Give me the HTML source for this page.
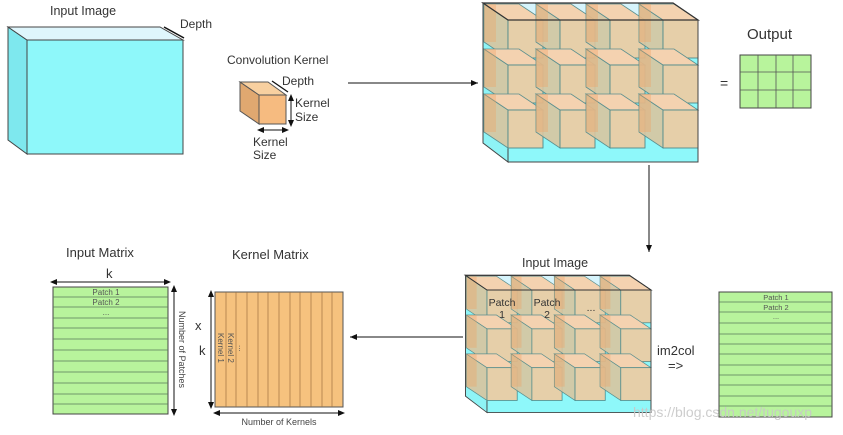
<!DOCTYPE html>
<html><head><meta charset="utf-8"><style>
body{margin:0;background:#fff}
svg text{font-family:"Liberation Sans",sans-serif;fill:#333}
</style></head><body>
<svg width="843" height="430" viewBox="0 0 843 430" xmlns="http://www.w3.org/2000/svg">
<defs>
<marker id="ah" markerWidth="8" markerHeight="8" refX="7" refY="4" orient="auto" markerUnits="userSpaceOnUse"><path d="M0,1 L7,4 L0,7 Z" fill="#111"/></marker>
<marker id="as" markerWidth="8" markerHeight="8" refX="4" refY="4" orient="auto-start-reverse" markerUnits="userSpaceOnUse"><path d="M0,1 L7,4 L0,7 Z" fill="#111"/></marker>
<g id="cube">
<polygon points="-24,-16 0,0 0,38 -24,22" fill="#d8c49e" fill-opacity="0.9" stroke="#5a8f8f" stroke-width="0.8"/>
<polygon points="-24,-16 11,-16 35,0 0,0" fill="#f4d2b0" stroke="#5a8f8f" stroke-width="0.8"/>
<rect x="-24" y="-16" width="12" height="38" fill="#f0a060" fill-opacity="0.35"/>
<rect x="0" y="0" width="35" height="38" fill="#e6cfa9" stroke="#4e8a8a" stroke-width="0.9"/>
</g>
<g id="block">
<polygon points="483,3 508,20 508,162 483,143" fill="#8ef4f6" stroke="#444" stroke-width="1"/>
<polygon points="483,3 673,3 698,20 508,20" fill="#d6f4fc" stroke="#333" stroke-width="1"/>
<rect x="508" y="20" width="190" height="142" fill="#8ef8fa" stroke="#444" stroke-width="1"/>
<use href="#cube" x="508" y="20"/><use href="#cube" x="560" y="20"/><use href="#cube" x="610" y="20"/><use href="#cube" x="663" y="20"/>
<use href="#cube" x="508" y="65"/><use href="#cube" x="560" y="65"/><use href="#cube" x="610" y="65"/><use href="#cube" x="663" y="65"/>
<use href="#cube" x="508" y="110"/><use href="#cube" x="560" y="110"/><use href="#cube" x="610" y="110"/><use href="#cube" x="663" y="110"/>
<polygon points="483,3 673,3 698,20 508,20" fill="none" stroke="#333" stroke-width="1.2"/>
<line x1="483" y1="3" x2="483" y2="143" stroke="#444"/>
<line x1="698" y1="20" x2="698" y2="162" stroke="#444"/>
</g>
</defs>

<!-- Input image top-left -->
<text x="50" y="15" font-size="12.5">Input Image</text>
<polygon points="8,27 27,40 27,154 8,140" fill="#7ee8ee" stroke="#444"/>
<polygon points="8,27 160,27 183,40 27,40" fill="#dff6fc" stroke="#444"/>
<rect x="27" y="40" width="156" height="114" fill="#8ef8fa" stroke="#444"/>
<line x1="164" y1="27" x2="184" y2="38" stroke="#111" stroke-width="1.5"/>
<text x="180" y="28" font-size="12">Depth</text>

<!-- kernel cube -->
<text x="227" y="64" font-size="12">Convolution Kernel</text>
<polygon points="240,82 259,95 259,124 240,111" fill="#e0a870" stroke="#555"/>
<polygon points="240,82 268,82 286,95 259,95" fill="#f8d0a0" stroke="#555"/>
<rect x="259" y="95" width="27" height="29" fill="#f6bb80" stroke="#555"/>
<line x1="272" y1="81" x2="288" y2="92" stroke="#111" stroke-width="1.3"/>
<text x="282" y="85" font-size="12">Depth</text>
<line x1="291" y1="97" x2="291" y2="124" stroke="#111" marker-start="url(#as)" marker-end="url(#as)"/>
<text x="295" y="107" font-size="12">Kernel</text>
<text x="295" y="121" font-size="12">Size</text>
<line x1="260" y1="130" x2="286" y2="130" stroke="#111" marker-start="url(#as)" marker-end="url(#as)"/>
<text x="253" y="146" font-size="12">Kernel</text>
<text x="253" y="159" font-size="12">Size</text>

<line x1="348" y1="83" x2="478" y2="83" stroke="#111" marker-end="url(#ah)"/>

<use href="#block"/>

<text x="720" y="88" font-size="14">=</text>
<text x="747" y="39" font-size="15">Output</text>
<rect x="740" y="55" width="71" height="53" fill="#b8f49c" stroke="#444"/>
<g stroke="#555" stroke-width="0.8">
<line x1="758" y1="55" x2="758" y2="108"/><line x1="776" y1="55" x2="776" y2="108"/><line x1="793" y1="55" x2="793" y2="108"/>
<line x1="740" y1="72" x2="811" y2="72"/><line x1="740" y1="90" x2="811" y2="90"/>
</g>

<line x1="649" y1="165" x2="649" y2="252" stroke="#111" marker-end="url(#ah)"/>

<!-- bottom block -->
<text x="522" y="267" font-size="12.5">Input Image</text>
<g transform="translate(487,290) scale(0.863) translate(-508,-20)"><use href="#block"/></g>
<g font-size="10.5" text-anchor="middle">
<text x="502" y="306">Patch</text><text x="502" y="318">1</text>
<text x="547" y="306">Patch</text><text x="547" y="318">2</text>
<text x="591" y="311">...</text>
</g>
<text x="657" y="355" font-size="13">im2col</text>
<text x="668" y="370" font-size="13">=&gt;</text>

<rect x="719" y="292" width="113" height="125" fill="#b8f49c" stroke="#444"/>
<g stroke="#5a7a5a" stroke-width="0.8">
<line x1="719" y1="302" x2="832" y2="302"/><line x1="719" y1="312" x2="832" y2="312"/><line x1="719" y1="323" x2="832" y2="323"/>
<line x1="719" y1="334" x2="832" y2="334"/><line x1="719" y1="344" x2="832" y2="344"/><line x1="719" y1="354" x2="832" y2="354"/>
<line x1="719" y1="365" x2="832" y2="365"/><line x1="719" y1="375" x2="832" y2="375"/><line x1="719" y1="385" x2="832" y2="385"/>
<line x1="719" y1="396" x2="832" y2="396"/><line x1="719" y1="406" x2="832" y2="406"/>
</g>
<g font-size="7.5" text-anchor="middle" fill="#555"><text x="776" y="300" style="fill:#555">Patch 1</text><text x="776" y="310" style="fill:#555">Patch 2</text><text x="776" y="319" style="fill:#555">...</text></g>
<text x="633" y="417" font-size="14" style="fill:#c8c8c8;opacity:0.9">https://blog.csdn.net/tugouxp</text>

<line x1="463" y1="337" x2="350" y2="337" stroke="#111" marker-end="url(#ah)"/>

<!-- kernel matrix -->
<text x="232" y="259" font-size="13">Kernel Matrix</text>
<rect x="215" y="292" width="128" height="115" fill="#f6c27e" stroke="#555"/>
<g stroke="#a07040" stroke-width="0.7">
<line x1="226" y1="292" x2="226" y2="407"/><line x1="236" y1="292" x2="236" y2="407"/><line x1="247" y1="292" x2="247" y2="407"/>
<line x1="258" y1="292" x2="258" y2="407"/><line x1="268" y1="292" x2="268" y2="407"/><line x1="279" y1="292" x2="279" y2="407"/>
<line x1="290" y1="292" x2="290" y2="407"/><line x1="300" y1="292" x2="300" y2="407"/><line x1="311" y1="292" x2="311" y2="407"/>
<line x1="322" y1="292" x2="322" y2="407"/><line x1="332" y1="292" x2="332" y2="407"/>
</g>
<text transform="translate(218,333) rotate(90)" font-size="8" style="fill:#555">Kernel 1</text>
<text transform="translate(228,333) rotate(90)" font-size="8" style="fill:#555">Kernel 2</text>
<text transform="translate(239,345) rotate(90)" font-size="8" style="fill:#555">...</text>
<line x1="211" y1="293" x2="211" y2="406" stroke="#111" marker-start="url(#as)" marker-end="url(#as)"/>
<line x1="216" y1="413" x2="342" y2="413" stroke="#111" marker-start="url(#as)" marker-end="url(#as)"/>
<text x="279" y="425" font-size="9" text-anchor="middle" style="fill:#444">Number of Kernels</text>
<text x="195" y="330" font-size="13">x</text>
<text x="199" y="355" font-size="13">k</text>

<!-- input matrix -->
<text x="66" y="257" font-size="13">Input Matrix</text>
<text x="106" y="278" font-size="13">k</text>
<line x1="53" y1="282" x2="168" y2="282" stroke="#111" marker-start="url(#as)" marker-end="url(#as)"/>
<rect x="53" y="287" width="115" height="127" fill="#b8f49c" stroke="#444"/>
<g stroke="#5a7a5a" stroke-width="0.8">
<line x1="53" y1="297" x2="168" y2="297"/><line x1="53" y1="307" x2="168" y2="307"/><line x1="53" y1="318" x2="168" y2="318"/>
<line x1="53" y1="328" x2="168" y2="328"/><line x1="53" y1="339" x2="168" y2="339"/><line x1="53" y1="350" x2="168" y2="350"/>
<line x1="53" y1="361" x2="168" y2="361"/><line x1="53" y1="372" x2="168" y2="372"/><line x1="53" y1="383" x2="168" y2="383"/>
<line x1="53" y1="394" x2="168" y2="394"/><line x1="53" y1="404" x2="168" y2="404"/>
</g>
<g font-size="8" text-anchor="middle"><text x="106" y="295" style="fill:#555">Patch 1</text><text x="106" y="305" style="fill:#555">Patch 2</text><text x="106" y="315" style="fill:#555">...</text></g>
<line x1="174" y1="288" x2="174" y2="413" stroke="#111" marker-start="url(#as)" marker-end="url(#as)"/>
<text transform="translate(179,311) rotate(90)" font-size="9" style="fill:#444">Number of Patches</text>
</svg>
</body></html>
